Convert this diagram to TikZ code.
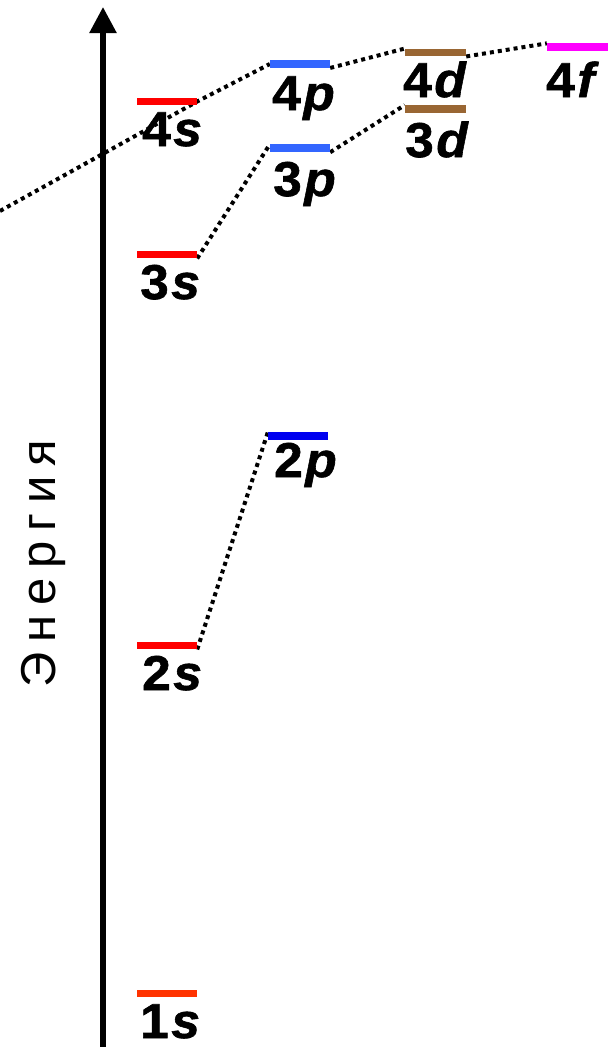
\documentclass[tikz,border=0pt]{standalone}
\usepackage{fontspec}
\setmainfont{Liberation Sans}
\newfontfamily\energyfont[LetterSpace=20]{Liberation Sans}
\newfontfamily\orbfont[FakeStretch=1.05,FakeBold=1.2]{Liberation Sans}
\usetikzlibrary{arrows.meta}
\definecolor{sred}{RGB}{255,0,0}
\definecolor{sonered}{RGB}{255,51,0}
\definecolor{pdeep}{RGB}{0,0,240}
\definecolor{plight}{RGB}{51,102,255}
\definecolor{dbrown}{RGB}{153,102,51}
\definecolor{fmag}{RGB}{255,0,255}
\newcommand{\orb}[2]{#1\kern2.5pt\textit{#2}}
\tikzset{
  level/.style={rectangle, draw=none, inner sep=0pt, minimum height=7.5pt, minimum width=60pt},
  lbl/.style={anchor=base west, inner sep=0pt, font=\orbfont\fontsize{49}{49}\selectfont\bfseries},
  link/.style={line width=4pt, dash pattern=on 4pt off 4pt},
  axisline/.style={line width=5.5pt, -{Triangle[length=26pt,width=26pt]}}
}
\begin{document}
\begin{tikzpicture}[x=1pt,y=-1pt]
\useasboundingbox (0,0) rectangle (608,1047);
\coordinate (axbot) at (103,1047);
\coordinate (axtop) at (103,7);
\coordinate (farleft) at (0,211);
\path (167,993.5) node[level] (s1) {}
      (167,645.5) node[level] (s2) {}
      (167,254.5) node[level] (s3) {}
      (167,101.5) node[level] (s4) {}
      (298,436.3) node[level] (p2) {}
      (300,148.3) node[level] (p3) {}
      (300,64) node[level] (p4) {}
      (435.5,109) node[level, minimum width=61pt] (d3) {}
      (435.5,52.5) node[level, minimum width=61pt] (d4) {}
      (577.5,47.3) node[level, minimum width=61pt] (f4) {};
\draw[link] (s2.south east) -- (p2.north west);
\draw[link] (s3.south east) -- (p3.north west);
\draw[link] (farleft) -- (s4.east) -- (p4.west);
\draw[link] (p4.south east) -- (d4.north west);
\draw[link] (d4.south east) -- (f4.north west);
\draw[link] (p3.south east) -- (d3.north west);
\fill[sonered] (s1.south west) rectangle (s1.north east);
\fill[sred] (s2.south west) rectangle (s2.north east);
\fill[sred] (s3.south west) rectangle (s3.north east);
\fill[sred] (s4.south west) rectangle (s4.north east);
\fill[pdeep] (p2.south west) rectangle (p2.north east);
\fill[plight] (p3.south west) rectangle (p3.north east);
\fill[plight] (p4.south west) rectangle (p4.north east);
\fill[dbrown] (d3.south west) rectangle (d3.north east);
\fill[dbrown] (d4.south west) rectangle (d4.north east);
\fill[fmag] (f4.south west) rectangle (f4.north east);
\draw[axisline] (axbot) -- (axtop);
\node[lbl] (l1s) at (140,1038) {\orb{1}{s}};
\node[lbl] (l2s) at (142,690) {\orb{2}{s}};
\node[lbl] (l3s) at (140,299) {\orb{3}{s}};
\node[lbl] (l4s) at (142,146) {\orb{4}{s}};
\node[lbl] (l2p) at (274,477) {\orb{2}{p}};
\node[lbl] (l3p) at (273,196) {\orb{3}{p}};
\node[lbl] (l4p) at (272,110) {\orb{4}{p}};
\node[lbl] (l3d) at (405,157) {\orb{3}{d}};
\node[lbl] (l4d) at (403,97) {\orb{4}{d}};
\node[lbl] (l4f) at (546,97) {\orb{4}{f}};
\node[rotate=90, anchor=base, inner sep=0pt, font=\fontsize{49}{49}\selectfont\energyfont] (energy) at (55,563.5) {Энергия};
\end{tikzpicture}
\end{document}
